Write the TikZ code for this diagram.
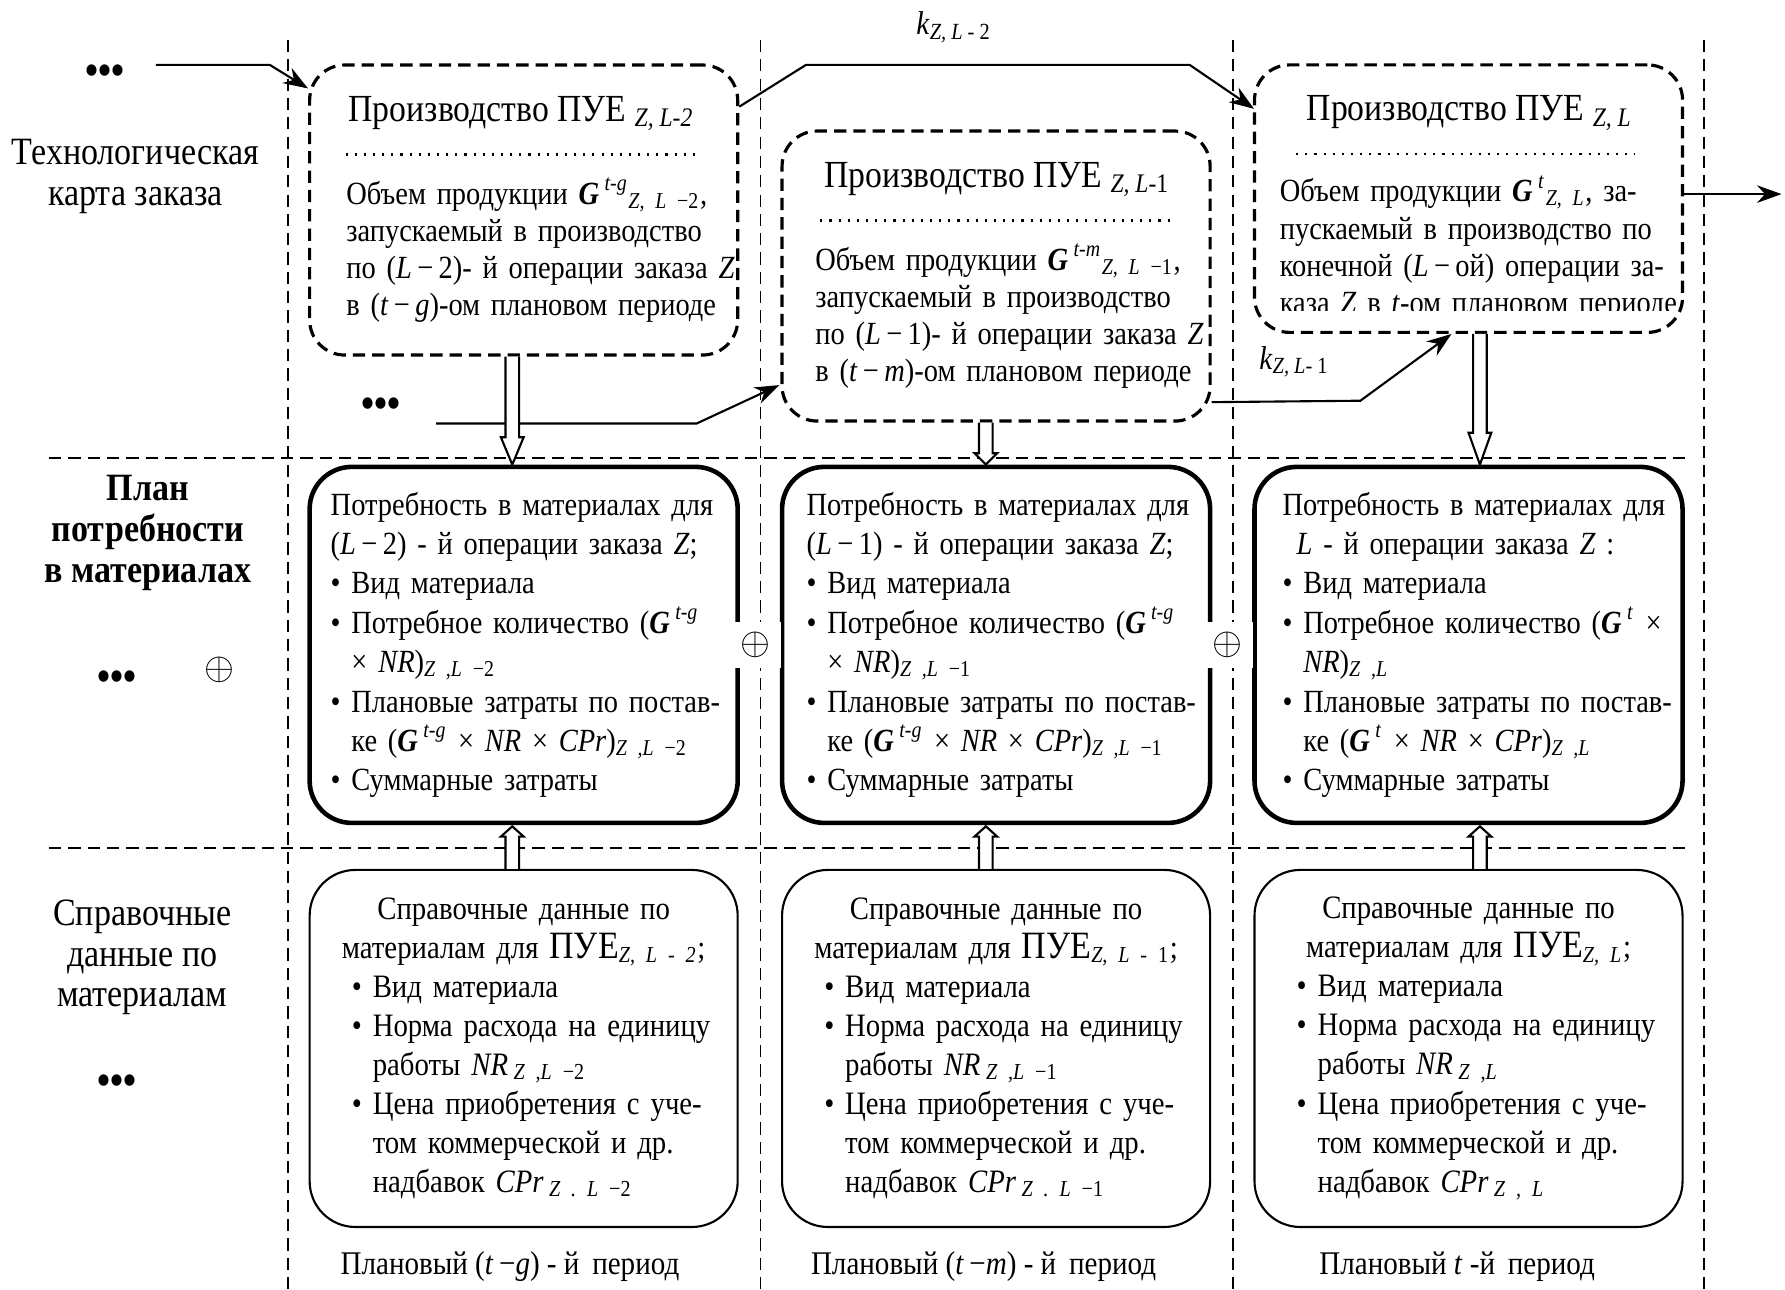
\documentclass[tikz,border=0pt]{standalone}
\usepackage{fontspec}
\setmainfont{Liberation Serif}[FakeStretch=0.88]
\usetikzlibrary{arrows.meta,calc,positioning}

\newcommand{\Gb}{\textbf{\textit{G}}}
% open double-line arrow: start, tip, head length (signed)
\newcommand{\hollowarrow}[3]{%
  \draw[fill=white,line width=0.6pt] ($(#1)+(-6,0)$) -- ($(#2)+(-6,{-(#3)})$) -- ($(#2)+(-10,{-(#3)})$) -- (#2)
    -- ($(#2)+(10,{-(#3)})$) -- ($(#2)+(6,{-(#3)})$) -- ($(#1)+(6,0)$);}

\begin{document}
\begin{tikzpicture}[x=0.011384cm,y=-0.011384cm,font=\fontsize{9.4pt}{11.2pt}\selectfont,
  lane/.style={dash pattern=on 3.5pt off 2pt,line width=0.5pt},
  plan/.style={draw,dash pattern=on 3.5pt off 2pt,line width=0.9pt,rounded corners=10pt,minimum width=4.28cm,minimum height=2.9cm},
  plantitle/.style={font=\fontsize{10.9pt}{12pt}\selectfont,inner sep=0pt},
  planbody/.style={font=\fontsize{9.2pt}{10.6pt}\selectfont,text width=4.4cm,align=left,inner sep=0pt,anchor=north west},
  need/.style={draw,line width=1.3pt,rounded corners=12pt,minimum width=4.28cm,minimum height=3.56cm,text width=4.28cm,align=left,inner sep=0pt,font=\fontsize{9.2pt}{11.2pt}\selectfont},
  refbox/.style={draw,line width=0.6pt,rounded corners=13pt,minimum width=4.28cm,minimum height=3.57cm,text width=4.28cm,align=left,inner sep=0pt,font=\fontsize{9.3pt}{11.1pt}\selectfont},
  side/.style={font=\fontsize{11pt}{11.6pt}\selectfont,align=center},
  ellip/.style={font=\fontsize{12pt}{12pt}\selectfont\bfseries},
  arr/.style={-{Stealth[length=7pt,width=5pt]},line width=0.6pt}]

\useasboundingbox (0,0) rectangle (1568,1133);

% lanes
\foreach \x in {253,668,1083,1497}
  \draw[lane] (\x,35) -- (\x,1133);
\draw[lane] (43,402) -- (1480,402);
\draw[lane] (43,745) -- (1480,745);

% left column
\node[ellip] (dA) at (92,66) {•••};
\node[side] (lA) at (119,155) {Технологическая\\карта заказа};
\node[side,font=\fontsize{11pt}{11.6pt}\selectfont\bfseries] (lB) at (130,468) {План\\потребности\\в материалах};
\node[ellip] (dM) at (103,598) {•••};
\node[font=\fontsize{11pt}{11pt}\selectfont] (oL) at (193,588) {$\oplus$};
\node[side] (lC) at (125,841) {Справочные\\данные по\\материалам};
\node[ellip] (dR) at (103,953) {•••};
\node[ellip] (dB) at (335,358) {•••};

% technological map
\node[plan] (pA) at (460,184.5) {};
\node[plan] (pB) at (875,242.5) {};
\node[plan,minimum height=2.675cm] (pC) at (1290,174.5) {};

\node[plantitle] (tA) at ($(pA.north)+(-2,44)$) {Производство ПУЕ~\textsubscript{\textit{Z, L-2}}};
\node[plantitle] (tB) at ($(pB.north)+(1,44)$) {Производство ПУЕ~\textsubscript{\textit{Z, L}-1}};
\node[plantitle] (tC) at ($(pC.north)+(1,44)$) {Производство ПУЕ~\textsubscript{\textit{Z, L}}};

\draw[dotted,line width=0.6pt] ($(pA.north west)+(33,80)$) -- ($(pA.north east)+(-35,80)$);
\draw[dotted,line width=0.6pt] ($(pB.north west)+(35,80)$) -- ($(pB.north east)+(-33,80)$);
\draw[dotted,line width=0.6pt] ($(pC.north west)+(38,80)$) -- ($(pC.north east)+(-43,80)$);

\node[planbody] (bA) at ($(pA.north west)+(33,100)$) {Объем продукции \Gb\,\textsuperscript{\textit{t-g}}\textsubscript{\textit{Z, L} −2},\\
запускаемый в производство\\
по (\textit{L}\,−\,2)- й операции заказа \textit{Z}\\
в (\textit{t}\,−\,\textit{g})-ом плановом периоде};
\node[planbody] (bB) at ($(pB.north west)+(30,100)$) {Объем продукции \Gb\,\textsuperscript{\textit{t-m}}\textsubscript{\textit{Z, L} −1},\\
запускаемый в производство\\
по (\textit{L}\,−\,1)- й операции заказа \textit{Z}\\
в (\textit{t}\,−\,\textit{m})-ом плановом периоде};
\begin{scope}
\clip (pC.north west) rectangle ($(pC.south east)+(0,-21)$);
\node[planbody] (bC) at ($(pC.north west)+(23,98)$) {Объем продукции \Gb\,\textsuperscript{\textit{t}}\textsubscript{\textit{Z, L}}, за-\\
пускаемый в производство по\\
конечной (\textit{L}\,−\,ой) операции за-\\
каза \textit{Z} в \textit{t}-ом плановом периоде};
\end{scope}

% material needs
\node[need] (mA) at (460,566.5) {\leftskip=6pt Потребность в материалах для\\
(\textit{L}\,−\,2) - й операции заказа \textit{Z};\\
• Вид материала\\
• Потребное количество (\Gb\,\textsuperscript{\textit{t-g}}\\
\phantom{• }× \textit{NR})\textsubscript{\textit{Z ,L} −2}\\
• Плановые затраты по постав-\\
\phantom{• }ке (\Gb\,\textsuperscript{\textit{t-g}} × \textit{NR} × \textit{CPr})\textsubscript{\textit{Z ,L} −2}\\
• Суммарные затраты\par};
\node[need] (mB) at (875,566.5) {\leftskip=7pt Потребность в материалах для\\
(\textit{L}\,−\,1) - й операции заказа \textit{Z};\\
• Вид материала\\
• Потребное количество (\Gb\,\textsuperscript{\textit{t-g}}\\
\phantom{• }× \textit{NR})\textsubscript{\textit{Z ,L} −1}\\
• Плановые затраты по постав-\\
\phantom{• }ке (\Gb\,\textsuperscript{\textit{t-g}} × \textit{NR} × \textit{CPr})\textsubscript{\textit{Z ,L} −1}\\
• Суммарные затраты\par};
\node[need] (mC) at (1290,566.5) {\leftskip=8pt Потребность в материалах для\\
\hspace*{4pt}\textit{L} - й операции заказа \textit{Z} :\\
• Вид материала\\
• Потребное количество (\Gb\,\textsuperscript{\textit{t}} ×\\
\phantom{• }\textit{NR})\textsubscript{\textit{Z ,L}}\\
• Плановые затраты по постав-\\
\phantom{• }ке (\Gb\,\textsuperscript{\textit{t}} × \textit{NR} × \textit{CPr})\textsubscript{\textit{Z ,L}}\\
• Суммарные затраты\par};

\node[inner sep=3pt,fill=white,font=\fontsize{11pt}{11pt}\selectfont] (oA) at ($(mA.east)!0.5!(mB.west)+(-4,0)$) {$\oplus$};
\node[inner sep=3pt,fill=white,font=\fontsize{11pt}{11pt}\selectfont] (oB) at ($(mB.east)!0.5!(mC.west)+(-4,0)$) {$\oplus$};

% reference data
\node[refbox] (rA) at (460,921) {{\centering Справочные данные по\\
материалам для {\fontsize{11pt}{11pt}\selectfont ПУЕ}\textsubscript{\textit{Z, L - 2}};\par}
\hspace*{12pt}• Вид материала\\
\hspace*{12pt}• Норма расхода на единицу\\
\hspace*{12pt}\phantom{• }работы \textit{NR}\,\textsubscript{\textit{Z ,L} −2}\\
\hspace*{12pt}• Цена приобретения с уче-\\
\hspace*{12pt}\phantom{• }том коммерческой и др.\\
\hspace*{12pt}\phantom{• }надбавок \textit{CPr}\,\textsubscript{\textit{Z . L} −2}};
\node[refbox] (rB) at (875,921) {{\centering Справочные данные по\\
материалам для {\fontsize{11pt}{11pt}\selectfont ПУЕ}\textsubscript{\textit{Z, L - }1};\par}
\hspace*{12pt}• Вид материала\\
\hspace*{12pt}• Норма расхода на единицу\\
\hspace*{12pt}\phantom{• }работы \textit{NR}\,\textsubscript{\textit{Z ,L} −1}\\
\hspace*{12pt}• Цена приобретения с уче-\\
\hspace*{12pt}\phantom{• }том коммерческой и др.\\
\hspace*{12pt}\phantom{• }надбавок \textit{CPr}\,\textsubscript{\textit{Z . L} −1}};
\node[refbox] (rC) at (1290,921) {{\centering Справочные данные по\\
материалам для {\fontsize{11pt}{11pt}\selectfont ПУЕ}\textsubscript{\textit{Z, L}};\par}
\hspace*{12pt}• Вид материала\\
\hspace*{12pt}• Норма расхода на единицу\\
\hspace*{12pt}\phantom{• }работы \textit{NR}\,\textsubscript{\textit{Z ,L}}\\
\hspace*{12pt}• Цена приобретения с уче-\\
\hspace*{12pt}\phantom{• }том коммерческой и др.\\
\hspace*{12pt}\phantom{• }надбавок \textit{CPr}\,\textsubscript{\textit{Z , L}}};

% periods
\node[font=\fontsize{9.4pt}{11pt}\selectfont] (sA) at (448,1113) {Плановый (\textit{t}\,−\textit{g}) - й\, период};
\node[font=\fontsize{9.4pt}{11pt}\selectfont] (sB) at (864,1113) {Плановый (\textit{t}\,−\textit{m}) - й\, период};
\node[font=\fontsize{9.4pt}{11pt}\selectfont] (sC) at (1280,1113) {Плановый \textit{t} -й\, период};

% flows between operations
\coordinate (inA) at (137,57);
\coordinate (inB) at (383,372);
\draw[arr] (inA) -- (237,57) -- ($(pA.north west)+(0,22)$);
\draw[arr] ($(pA.north east)+(0,38)$) -- (708,57) -- (1045,57) -- ($(pC.north west)+(1,40)$);
\draw[arr] (inB) -- (612,372) -- ($(pB.south west)+(-1,-33)$);
\draw[arr] ($(pB.south east)+(0,-18)$) -- (1195,352) -- ($(pC.south)+(-15,0)$);
\draw[arr] ($(pC.east)+(0,-4)$) -- (1565,170.5);
\node[font=\fontsize{9.4pt}{11pt}\selectfont] (kA) at (838,24) {\textit{k}\textsubscript{\textit{Z, L} - 2}};
\node[font=\fontsize{9.4pt}{11pt}\selectfont] (kB) at (1137,318) {\textit{k}\textsubscript{\textit{Z, L}- 1}};

% open arrows between levels
\coordinate (a1) at ($(pA.south)+(-10,0)$);
\coordinate (a2) at ($(mA.north)+(-10,0)$);
\coordinate (b1) at ($(pB.south)+(-9,0)$);
\coordinate (b2) at ($(mB.north)+(-9,0)$);
\coordinate (c1) at ($(pC.south)+(10,0)$);
\coordinate (c2) at ($(mC.north)+(10,0)$);
\hollowarrow{a1}{a2}{24}
\hollowarrow{b1}{b2}{10}
\hollowarrow{c1}{c2}{28}
\coordinate (a3) at ($(rA.north)+(-10,0)$);
\coordinate (a4) at ($(mA.south)+(-10,1)$);
\coordinate (b3) at ($(rB.north)+(-9,0)$);
\coordinate (b4) at ($(mB.south)+(-9,1)$);
\coordinate (c3) at ($(rC.north)+(10,0)$);
\coordinate (c4) at ($(mC.south)+(10,1)$);
\hollowarrow{a3}{a4}{-9}
\hollowarrow{b3}{b4}{-9}
\hollowarrow{c3}{c4}{-9}

\end{tikzpicture}
\end{document}
